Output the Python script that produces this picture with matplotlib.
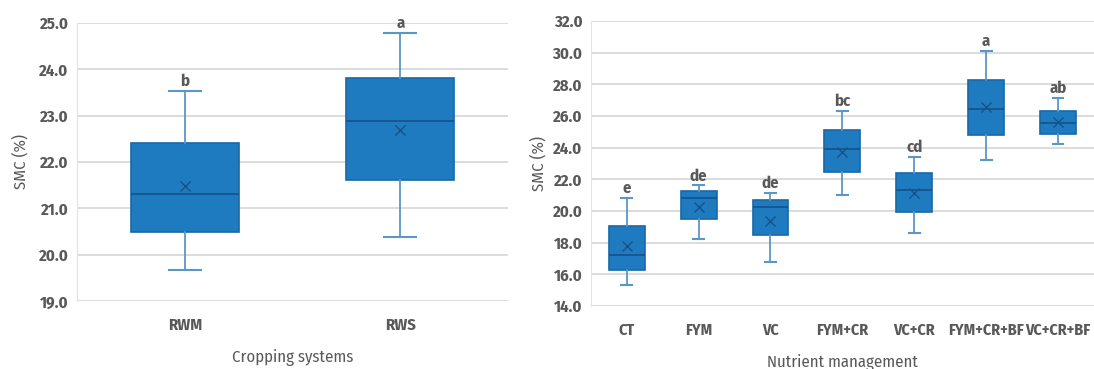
import matplotlib.pyplot as plt
import numpy as np

plt.rcParams['font.family'] = ['Fira Sans Condensed', 'DejaVu Sans']

# Cropping systems (left panel)
crop_names = ['RWM', 'RWS']
crop_low = [19.68, 20.38]
crop_q1 = [20.50, 21.61]
crop_med = [21.31, 22.89]
crop_mean = [21.49, 22.69]
crop_q3 = [22.42, 23.82]
crop_high = [23.53, 24.78]
crop_letters = ['b', 'a']

# Nutrient management (right panel)
nut_names = ['CT', 'FYM', 'VC', 'FYM+CR', 'VC+CR', 'FYM+CR+BF', 'VC+CR+BF']
nut_low = [15.31, 18.21, 16.78, 21.00, 18.59, 23.25, 24.26]
nut_q1 = [16.27, 19.49, 18.48, 22.45, 19.95, 24.81, 24.89]
nut_med = [17.20, 20.81, 20.25, 23.90, 21.30, 26.45, 25.57]
nut_mean = [17.79, 20.23, 19.34, 23.74, 21.15, 26.58, 25.63]
nut_q3 = [19.03, 21.23, 20.67, 25.12, 22.37, 28.30, 26.34]
nut_high = [20.84, 21.61, 21.11, 26.30, 23.40, 30.11, 27.16]
nut_letters = ['e', 'de', 'de', 'bc', 'cd', 'a', 'ab']

BOX = '#1f7bbf'
EDGE = '#1868a8'
WHISK = '#5b96c8'
DARK = '#17518a'
TXT = '#595959'
GRID = '#d9d9d9'


def draw(ax, names, low, q1, med, mean, q3, high, letters, ylim, step, xlabel, offset, ylpad, xfs):
    stats = []
    for i in range(len(names)):
        stats.append(dict(whislo=low[i], q1=q1[i], med=med[i], mean=mean[i],
                          q3=q3[i], whishi=high[i], fliers=[]))
    pos = np.arange(len(names))
    ax.bxp(stats, positions=pos, widths=0.5, patch_artist=True, showmeans=True,
           boxprops=dict(facecolor=BOX, edgecolor=EDGE, linewidth=1.2),
           medianprops=dict(color=DARK, linewidth=1.2),
           whiskerprops=dict(color=WHISK, linewidth=1.3),
           capprops=dict(color=WHISK, linewidth=1.5),
           meanprops=dict(marker='x', markeredgecolor=DARK, markersize=7, markeredgewidth=1.0),
           capwidths=0.15, zorder=3)
    for i, t in enumerate(letters):
        ax.text(pos[i], high[i] + offset, t, ha='center', va='bottom',
                color=TXT, fontsize=12, fontweight='bold')
    ticks = np.arange(ylim[0], ylim[1] + 0.01, step)
    ax.set_xlim(-0.5, len(names) - 0.5)
    ax.set_ylim(*ylim)
    ax.set_yticks(ticks)
    ax.set_yticklabels([f'{v:.1f}' for v in ticks])
    ax.set_xticks(pos)
    ax.set_xticklabels(names)
    ax.grid(axis='y', color=GRID, linewidth=1.3, zorder=0)
    ax.set_axisbelow(True)
    for s in ['top', 'right', 'bottom']:
        ax.spines[s].set_visible(False)
    ax.spines['left'].set_color('#e3e3e3')
    ax.tick_params(length=0, labelsize=12, labelcolor=TXT, pad=6)
    ax.tick_params(axis='x', pad=12, labelsize=xfs)
    for lab in ax.get_xticklabels() + ax.get_yticklabels():
        lab.set_fontweight('bold')
    ax.set_ylabel('SMC (%)', color=TXT, fontsize=12, labelpad=ylpad)
    ax.set_xlabel(xlabel, color=TXT, fontsize=12, labelpad=11)


fig = plt.figure(figsize=(10.94, 3.69), dpi=100)
ax1 = fig.add_axes([0.0704, 0.184, 0.394, 0.754])
ax2 = fig.add_axes([0.540, 0.171, 0.460, 0.772])

draw(ax1, crop_names, crop_low, crop_q1, crop_med, crop_mean, crop_q3, crop_high,
     crop_letters, (19.0, 25.0), 1.0, 'Cropping systems', 0.03, 7, 12)
draw(ax2, nut_names, nut_low, nut_q1, nut_med, nut_mean, nut_q3, nut_high,
     nut_letters, (14.0, 32.0), 2.0, 'Nutrient management', 0.1, 4, 11.5)

fig.savefig('out.png', dpi=100)
